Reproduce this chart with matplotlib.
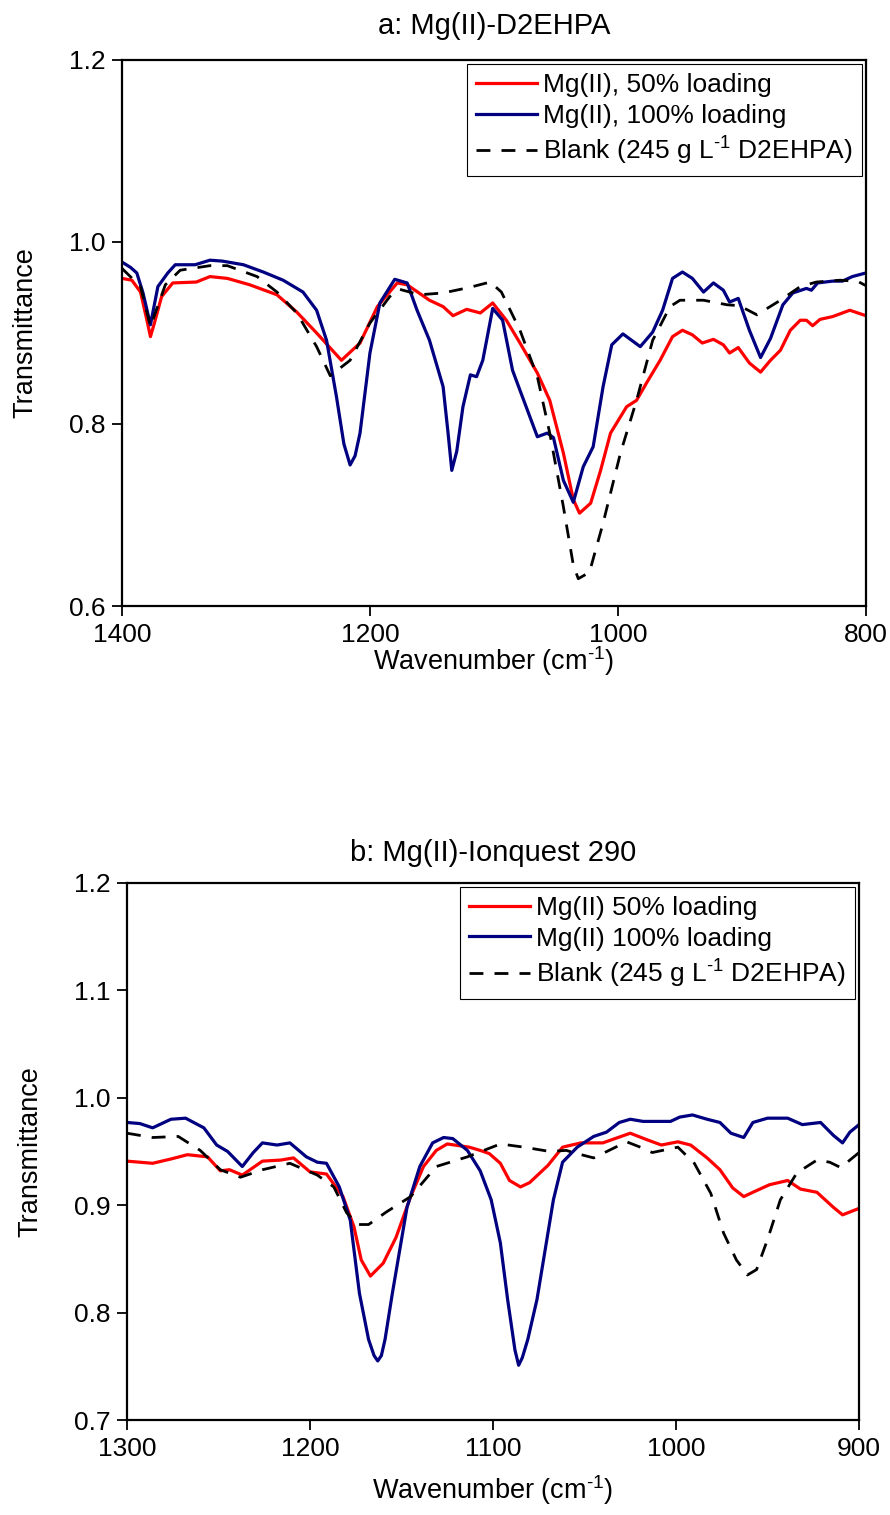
import matplotlib
matplotlib.use("Agg")
import matplotlib.pyplot as plt

plt.rcParams['font.family'] = ['Liberation Sans', 'DejaVu Sans']
plt.rcParams['mathtext.fontset'] = 'custom'
plt.rcParams['mathtext.rm'] = 'Liberation Sans'
plt.rcParams['mathtext.default'] = 'regular'

# ---------------- panel a: Mg(II)-D2EHPA ----------------
a_red_wn = [1400, 1392, 1385, 1380, 1377, 1374, 1368, 1359, 1340, 1329, 1315, 1297, 1275,
            1259, 1243, 1223, 1208, 1194, 1178, 1170, 1152, 1141, 1133, 1122, 1111, 1101,
            1090, 1079, 1065, 1055, 1044, 1036, 1031, 1022, 1014, 1006, 993, 985, 977, 966,
            956, 948, 940, 932, 923, 915, 910, 903, 894, 885, 877, 869, 861, 853, 848, 843,
            837, 827, 813, 800]
a_red_t = [0.960, 0.958, 0.945, 0.915, 0.896, 0.910, 0.940, 0.955, 0.956, 0.962, 0.960, 0.953,
           0.942, 0.923, 0.900, 0.870, 0.889, 0.929, 0.955, 0.953, 0.936, 0.929, 0.919, 0.926,
           0.922, 0.933, 0.914, 0.889, 0.856, 0.826, 0.768, 0.717, 0.702, 0.713, 0.749, 0.790,
           0.819, 0.826, 0.845, 0.870, 0.896, 0.903, 0.898, 0.889, 0.893, 0.887, 0.878, 0.884,
           0.867, 0.857, 0.870, 0.881, 0.903, 0.914, 0.914, 0.908, 0.915, 0.918, 0.925, 0.919]

a_blue_wn = [1400, 1393, 1388, 1383, 1377, 1371, 1363, 1357, 1341, 1329, 1319, 1302, 1286,
             1270, 1254, 1243, 1235, 1227, 1221, 1216, 1212, 1208, 1200, 1192, 1180, 1170,
             1162, 1152, 1141, 1137, 1134, 1130, 1125, 1119, 1114, 1109, 1101, 1093, 1085,
             1079, 1065, 1057, 1052, 1044, 1036, 1028, 1020, 1012, 1005, 996, 982, 972, 964,
             956, 948, 940, 931, 923, 915, 910, 903, 894, 885, 877, 867, 859, 848, 844, 839,
             827, 819, 811, 800]
a_blue_t = [0.978, 0.972, 0.966, 0.944, 0.909, 0.951, 0.966, 0.975, 0.975, 0.980, 0.979, 0.975,
            0.967, 0.958, 0.945, 0.925, 0.892, 0.830, 0.778, 0.755, 0.765, 0.790, 0.878, 0.933,
            0.959, 0.955, 0.925, 0.892, 0.841, 0.790, 0.749, 0.770, 0.819, 0.854, 0.852, 0.870,
            0.927, 0.914, 0.859, 0.837, 0.786, 0.790, 0.785, 0.738, 0.714, 0.753, 0.775, 0.841,
            0.887, 0.899, 0.885, 0.901, 0.925, 0.960, 0.967, 0.960, 0.945, 0.955, 0.947, 0.934,
            0.938, 0.903, 0.873, 0.894, 0.931, 0.944, 0.949, 0.947, 0.955, 0.957, 0.957, 0.962,
            0.966]

a_blank_wn = [1400, 1385, 1377, 1365, 1353, 1329, 1315, 1291, 1275, 1259, 1243, 1232, 1216,
              1200, 1184, 1176, 1160, 1141, 1120, 1103, 1094, 1079, 1065, 1055, 1044, 1036,
              1032, 1023, 1012, 998, 985, 972, 958, 950, 931, 912, 902, 888, 869, 853, 840,
              821, 807, 800]
a_blank_t = [0.971, 0.951, 0.907, 0.953, 0.969, 0.974, 0.974, 0.962, 0.945, 0.922, 0.885,
             0.853, 0.870, 0.911, 0.940, 0.948, 0.942, 0.944, 0.950, 0.956, 0.945, 0.903,
             0.852, 0.790, 0.709, 0.645, 0.630, 0.637, 0.691, 0.768, 0.826, 0.892, 0.929,
             0.936, 0.936, 0.931, 0.930, 0.920, 0.936, 0.951, 0.956, 0.958, 0.957, 0.952]

# ---------------- panel b: Mg(II)-Ionquest 290 ----------------
b_red_wn = [1300, 1286, 1276, 1267, 1256, 1249, 1244, 1237, 1226, 1216, 1209, 1200, 1191,
            1182, 1176, 1172, 1167, 1160, 1153, 1145, 1138, 1131, 1125, 1113, 1107, 1102,
            1096, 1091, 1085, 1080, 1070, 1062, 1052, 1040, 1025, 1016, 1008, 999, 992, 983,
            976, 969, 963, 958, 949, 939, 932, 923, 914, 909, 900]
b_red_t = [0.941, 0.939, 0.943, 0.947, 0.945, 0.932, 0.933, 0.928, 0.941, 0.942, 0.944, 0.931,
           0.929, 0.908, 0.880, 0.849, 0.834, 0.846, 0.870, 0.908, 0.936, 0.951, 0.957, 0.954,
           0.951, 0.948, 0.939, 0.923, 0.917, 0.921, 0.937, 0.954, 0.958, 0.958, 0.967, 0.961,
           0.956, 0.959, 0.956, 0.944, 0.933, 0.916, 0.908, 0.912, 0.919, 0.923, 0.915, 0.912,
           0.898, 0.891, 0.897]

b_blue_wn = [1300, 1293, 1286, 1276, 1268, 1258, 1251, 1245, 1237, 1231, 1226, 1218, 1211,
             1202, 1196, 1191, 1184, 1178, 1173, 1168, 1165, 1163, 1161, 1159, 1155, 1147,
             1140, 1133, 1127, 1122, 1114, 1107, 1101, 1096, 1092, 1088, 1086, 1084, 1081,
             1076, 1067, 1062, 1054, 1045, 1038, 1031, 1025, 1018, 1010, 1003, 998, 991, 983,
             976, 970, 963, 958, 950, 939, 931, 921, 914, 909, 905, 900]
b_blue_t = [0.977, 0.976, 0.972, 0.980, 0.981, 0.972, 0.956, 0.950, 0.936, 0.949, 0.958, 0.956,
            0.958, 0.945, 0.940, 0.939, 0.917, 0.886, 0.818, 0.775, 0.760, 0.755, 0.760, 0.775,
            0.818, 0.898, 0.936, 0.958, 0.963, 0.962, 0.951, 0.932, 0.905, 0.865, 0.812, 0.765,
            0.751, 0.758, 0.775, 0.812, 0.905, 0.940, 0.954, 0.964, 0.968, 0.977, 0.980, 0.978,
            0.978, 0.978, 0.982, 0.984, 0.980, 0.977, 0.967, 0.963, 0.977, 0.981, 0.981, 0.975,
            0.977, 0.965, 0.958, 0.968, 0.975]

b_blank_wn = [1300, 1286, 1272, 1260, 1249, 1238, 1226, 1211, 1196, 1187, 1180, 1174, 1168,
              1158, 1145, 1131, 1114, 1096, 1083, 1069, 1060, 1054, 1045, 1027, 1018, 1013,
              999, 990, 981, 974, 967, 961, 956, 950, 943, 934, 923, 916, 910, 900]
b_blank_t = [0.967, 0.963, 0.964, 0.951, 0.933, 0.926, 0.933, 0.939, 0.928, 0.917, 0.893,
             0.882, 0.882, 0.894, 0.908, 0.936, 0.945, 0.957, 0.954, 0.950, 0.951, 0.948,
             0.944, 0.959, 0.953, 0.949, 0.954, 0.939, 0.911, 0.874, 0.849, 0.835, 0.840,
             0.868, 0.905, 0.930, 0.942, 0.940, 0.935, 0.949]

a_labels = ['Mg(II), 50% loading', 'Mg(II), 100% loading', r'Blank (245 g L$^{\text{-}1}$ D2EHPA)']
b_labels = ['Mg(II) 50% loading', 'Mg(II) 100% loading', r'Blank (245 g L$^{\text{-}1}$ D2EHPA)']

RED = '#ff0000'
BLUE = '#000080'


def style_axes(ax, title, xlim, ylim, xticks, yticks, title_pad, xlab_pad):
    ax.set_xlim(*xlim)
    ax.set_ylim(*ylim)
    ax.set_xticks(xticks)
    ax.set_yticks(yticks)
    ax.set_yticklabels([f'{v:.1f}' for v in yticks])
    ax.tick_params(direction='out', length=7, width=1.3, labelsize=19, pad=5)
    for sp in ax.spines.values():
        sp.set_linewidth(1.6)
    ax.set_title(title, fontsize=21, pad=title_pad)
    ax.set_xlabel(r'Wavenumber (cm$^{\text{-}1}$)', fontsize=19.5, labelpad=xlab_pad)
    ax.set_ylabel('Transmittance', fontsize=19.5, labelpad=22)


def draw(ax, red, blue, blank, labels):
    ax.plot(red[0], red[1], color=RED, lw=2.3, label=labels[0])
    ax.plot(blue[0], blue[1], color=BLUE, lw=2.3, label=labels[1])
    ax.plot(blank[0], blank[1], color='black', lw=2.0, ls=(0, (5, 4)), label=labels[2])
    leg = ax.legend(loc='upper right', fontsize=19, frameon=True, fancybox=False,
                    edgecolor='black', framealpha=1, borderaxespad=0.15, handlelength=2.3,
                    handletextpad=0.25, labelspacing=0.25, borderpad=0.35)
    leg.get_frame().set_linewidth(0.8)


fig = plt.figure(figsize=(8.9, 15.15), dpi=100)
ax1 = fig.add_axes([0.137, 0.600, 0.836, 0.3604])
ax2 = fig.add_axes([0.1427, 0.0627, 0.8225, 0.3545])

draw(ax1, (a_red_wn, a_red_t), (a_blue_wn, a_blue_t), (a_blank_wn, a_blank_t), a_labels)
style_axes(ax1, 'a: Mg(II)-D2EHPA', (1400, 800), (0.6, 1.2),
           [1400, 1200, 1000, 800], [0.6, 0.8, 1.0, 1.2], 19, -2)

draw(ax2, (b_red_wn, b_red_t), (b_blue_wn, b_blue_t), (b_blank_wn, b_blank_t), b_labels)
style_axes(ax2, 'b: Mg(II)-Ionquest 290', (1300, 900), (0.7, 1.2),
           [1300, 1200, 1100, 1000, 900], [0.7, 0.8, 0.9, 1.0, 1.1, 1.2], 16, 9)

fig.savefig('out.png', dpi=100)
